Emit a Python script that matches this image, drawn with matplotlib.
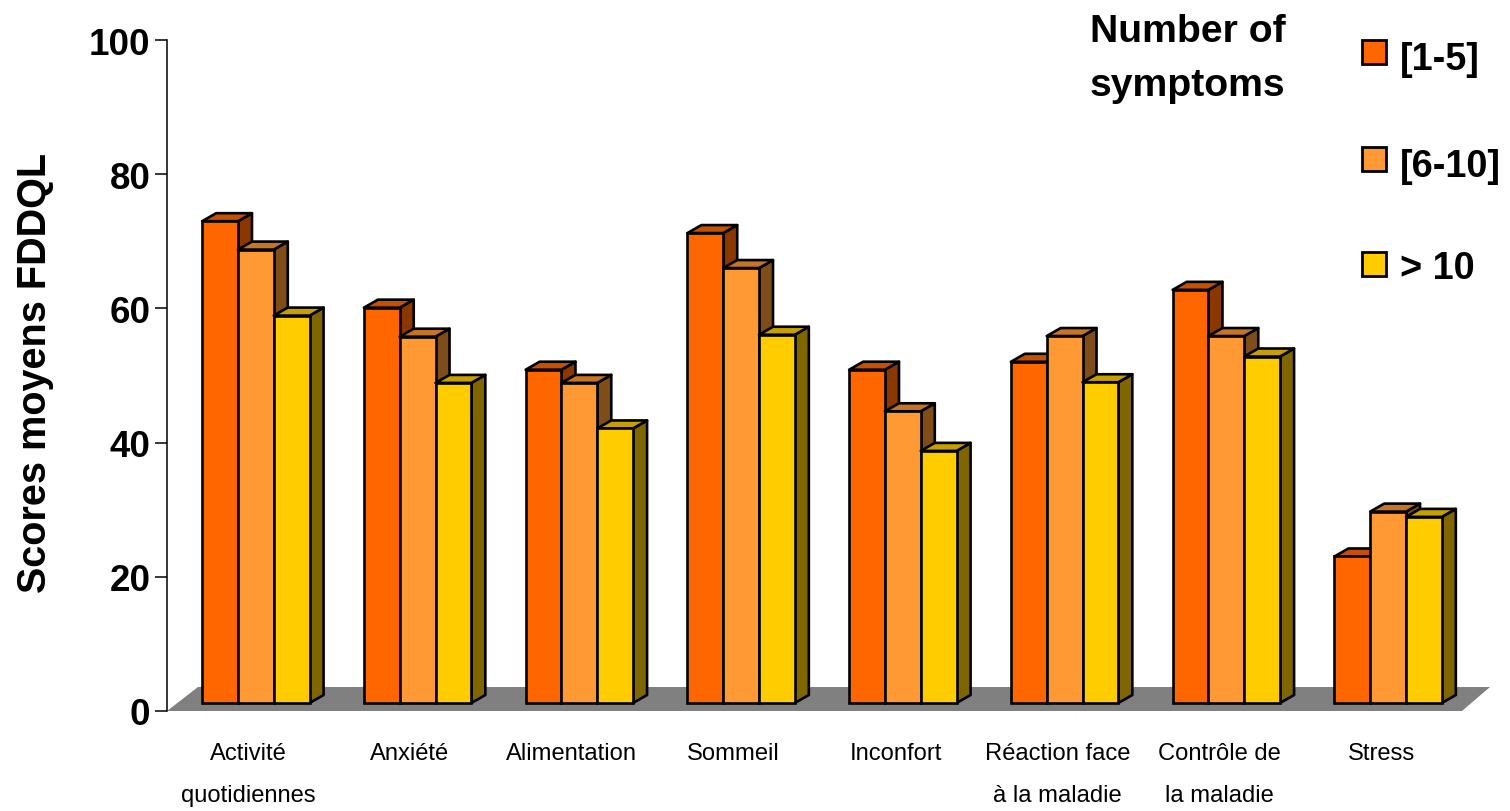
import matplotlib
matplotlib.use("Agg")
import matplotlib.pyplot as plt
from matplotlib.patches import Polygon, Rectangle

plt.rcParams['font.family'] = ['Liberation Sans', 'DejaVu Sans']

categories = ["Activité\nquotidiennes", "Anxiété", "Alimentation", "Sommeil", "Inconfort",
              "Réaction face\nà la maladie", "Contrôle de\nla maladie", "Stress"]
series_names = ["[1-5]", "[6-10]", "> 10"]
low = [73, 59.9, 50.5, 71.2, 50.5, 51.7, 62.6, 22.2]
mid = [68.7, 55.5, 48.5, 65.9, 44.2, 55.6, 55.6, 29]
high = [58.7, 48.5, 41.6, 55.8, 38.2, 48.6, 52.5, 28.2]
yticks = [0, 20, 40, 60, 80, 100]
ylabel = "Scores moyens FDDQL"
legend_title = ["Number of", "symptoms"]

front = ["#FF6600", "#FF9933", "#FFCC00"]
top = ["#C65102", "#C67428", "#C69F00"]
side = ["#8A3700", "#7F4D1A", "#806600"]

W, H = 1510, 812
fig = plt.figure(figsize=(W / 100, H / 100), dpi=100)

def px_axes(l, t, r, b):
    return fig.add_axes([l / W, 1 - b / H, (r - l) / W, (b - t) / H])

ax = px_axes(167, 41, 1462, 712)
ax.set_xlim(0, 8)
ax.set_ylim(0, 100)
for s in ("top", "right", "bottom"):
    ax.spines[s].set_visible(False)
ax.spines["left"].set_linewidth(1.1)
ax.set_yticks(yticks)
ax.tick_params(axis="y", length=9, width=1.1, pad=3, labelsize=26.5)
for t in ax.get_yticklabels():
    t.set_fontweight("bold")
ax.set_xticks([i + 0.5 for i in range(len(categories))])
ax.set_xticklabels(categories, fontsize=17.1, linespacing=2.14, va="top")
ax.tick_params(axis="x", length=0, pad=22.5)
ax.set_ylabel(ylabel, fontsize=28.5, fontweight="bold", va="center")
ax.yaxis.set_label_coords((35 - 167) / 1295, (712 - 373) / 671)

# floor
fx_l, fx_r, fy = 31 / 161.875, 28 / 161.875, 24 / 6.71
ax.add_patch(Polygon([(0, 0), (8, 0), (8 + fx_r, fy), (fx_l, fy)], closed=True,
                     facecolor="#808080", edgecolor="none", clip_on=False, zorder=1))

# bars
bx = px_axes(175, 44, 1469, 704)
bx.set_xlim(0, 8)
bx.set_ylim(0, 100)
bx.axis("off")
bw = 35.8 / 161.75
dx, dy = 14 / 161.75, 8 / 6.6
lw = 1.9
for i in range(len(categories)):
    for j, vals in enumerate((low, mid, high)):
        x0 = i + 0.5 + (j - 1.5) * bw
        v = vals[i]
        x1 = x0 + bw
        z = 3 + i * 10 + j * 3
        bx.add_patch(Polygon([(x1, 0), (x1 + dx, dy), (x1 + dx, v + dy), (x1, v)], closed=True,
                             facecolor=side[j], edgecolor="black", linewidth=lw,
                             joinstyle="round", clip_on=False, zorder=z))
        bx.add_patch(Polygon([(x0, v), (x1, v), (x1 + dx, v + dy), (x0 + dx, v + dy)], closed=True,
                             facecolor=top[j], edgecolor="black", linewidth=lw,
                             joinstyle="round", clip_on=False, zorder=z + 1))
        bx.bar(x0, v, width=bw, align="edge", color=front[j], edgecolor="black",
               linewidth=lw, clip_on=False, zorder=z + 2)

# legend
for line, y_px in zip(legend_title, (32, 86)):
    fig.text(1090 / W, 1 - y_px / H, line, fontsize=28.2, fontweight="bold", va="center", ha="left")
for name, c, top_px, text_y in zip(series_names, front, (41, 148, 253), (60, 167, 269)):
    fig.add_artist(Rectangle((1362 / W, 1 - (top_px + 24) / H), 24 / W, 24 / H,
                             transform=fig.transFigure, facecolor=c,
                             edgecolor="black", linewidth=2.0))
    fig.text(1400 / W, 1 - text_y / H, name, fontsize=27.3, fontweight="bold", va="center", ha="left")

fig.savefig("out.png", dpi=100)
